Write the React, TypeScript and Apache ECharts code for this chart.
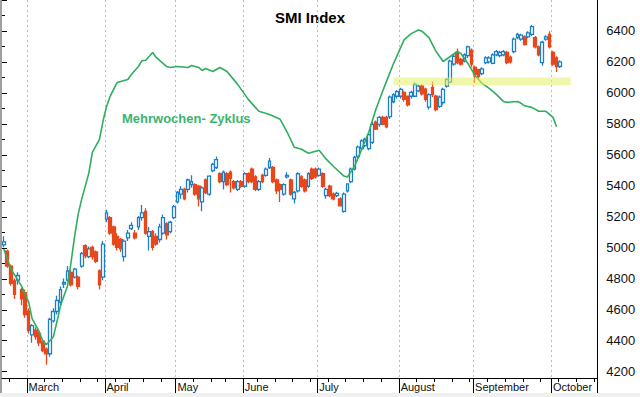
import React, { useEffect, useRef } from 'react';
import * as echarts from 'echarts';

// ---- categories -------------------------------------------------------
const firstDay = '2009-02-19';
const lastDay = '2009-10-19';
const holidays = ['2009-04-10', '2009-04-13', '2009-05-01', '2009-05-21', '2009-06-01'];
const monthNames = ['January', 'February', 'March', 'April', 'May', 'June', 'July', 'August', 'September', 'October', 'November', 'December'];

// ---- y axis -----------------------------------------------------------
const yLabelMin = 4200;
const yLabelMax = 6400;
const yStep = 200;

// ---- candles [open, close, low, high] per month ------------------------
const feb = [
  [5005, 5025, 4990, 5060], [4965, 4870, 4860, 4975], [4870, 4760, 4745, 4880], [4775, 4690, 4660, 4790],
  [4780, 4810, 4750, 4830], [4720, 4660, 4620, 4730], [4700, 4560, 4540, 4720],
];
const mar = [
  [4580, 4460, 4440, 4600], [4430, 4490, 4380, 4500], [4460, 4420, 4400, 4480], [4440, 4380, 4360, 4450],
  [4390, 4330, 4320, 4400], [4340, 4310, 4240, 4350], [4310, 4530, 4290, 4540], [4520, 4580, 4510, 4600],
  [4580, 4650, 4560, 4680], [4640, 4720, 4620, 4740], [4755, 4765, 4730, 4790], [4780, 4840, 4770, 4870],
  [4830, 4750, 4740, 4850], [4800, 4850, 4790, 4860], [4800, 4740, 4720, 4810], [4870, 4950, 4860, 4960],
  [5000, 4935, 4920, 5010], [4930, 4980, 4920, 4995], [4990, 4930, 4910, 5000], [4960, 4900, 4890, 4970],
  [4840, 4750, 4720, 4850], [4800, 5010, 4780, 5030],
];
const apr = [
  [5170, 5210, 5150, 5230], [5180, 5080, 5070, 5190], [5120, 5010, 5000, 5130], [5060, 4990, 4970, 5080],
  [5040, 4980, 4960, 5050], [4930, 5030, 4900, 5040], [5050, 5080, 5030, 5100], [5110, 5130, 5100, 5150],
  [5080, 5050, 5040, 5100], [5120, 5180, 5100, 5190], [5180, 5210, 5160, 5260], [5220, 5080, 5070, 5240],
  [5060, 5090, 4970, 5120], [5090, 4990, 4970, 5100], [5060, 5010, 5000, 5080], [5040, 5120, 5020, 5140],
  [5080, 5180, 5070, 5200], [5140, 5070, 5040, 5150], [5090, 5150, 5080, 5160], [5180, 5250, 5170, 5260],
];
const may = [
  [5280, 5340, 5270, 5350], [5330, 5360, 5300, 5380], [5360, 5300, 5290, 5370], [5360, 5420, 5340, 5430],
  [5390, 5410, 5370, 5450], [5390, 5330, 5320, 5400], [5380, 5300, 5250, 5390], [5280, 5370, 5220, 5380],
  [5420, 5340, 5330, 5430], [5330, 5445, 5320, 5450], [5480, 5520, 5470, 5530], [5500, 5550, 5490, 5570],
  [5460, 5410, 5400, 5470], [5410, 5470, 5360, 5480], [5460, 5390, 5380, 5470], [5470, 5430, 5340, 5480],
  [5410, 5370, 5360, 5420], [5360, 5410, 5350, 5420], [5410, 5380, 5370, 5420],
];
const jun = [
  [5380, 5460, 5370, 5470], [5460, 5410, 5400, 5470], [5490, 5410, 5400, 5500], [5440, 5360, 5350, 5450],
  [5360, 5410, 5350, 5420], [5450, 5410, 5400, 5460], [5450, 5490, 5440, 5500], [5500, 5540, 5490, 5560],
  [5500, 5410, 5400, 5510], [5420, 5350, 5330, 5430], [5390, 5360, 5280, 5400], [5330, 5390, 5320, 5400],
  [5440, 5450, 5430, 5470], [5420, 5330, 5320, 5430], [5300, 5340, 5270, 5350], [5350, 5460, 5340, 5470],
  [5440, 5380, 5370, 5450], [5420, 5350, 5340, 5430], [5380, 5460, 5370, 5470], [5490, 5430, 5420, 5500],
  [5490, 5440, 5430, 5500],
];
const jul = [
  [5450, 5490, 5440, 5500], [5460, 5380, 5370, 5470], [5320, 5360, 5300, 5370], [5380, 5320, 5310, 5390],
  [5330, 5300, 5290, 5340], [5320, 5335, 5310, 5345], [5300, 5255, 5250, 5310], [5220, 5330, 5210, 5340],
  [5350, 5395, 5340, 5400], [5410, 5490, 5400, 5500], [5490, 5565, 5480, 5575], [5570, 5630, 5560, 5640],
  [5620, 5670, 5610, 5680], [5640, 5680, 5630, 5690], [5620, 5710, 5610, 5720], [5660, 5775, 5650, 5790],
  [5790, 5745, 5740, 5800], [5775, 5820, 5760, 5830], [5820, 5775, 5770, 5830], [5820, 5760, 5750, 5830],
  [5825, 5950, 5810, 5960], [5920, 5965, 5910, 5975], [5955, 5985, 5940, 5995],
];
const aug = [
  [5955, 5999, 5940, 6010], [5980, 5935, 5920, 5990], [5955, 5900, 5890, 5960], [5955, 5980, 5940, 5990],
  [5955, 6030, 5950, 6045], [5990, 6020, 5980, 6030], [6020, 5970, 5960, 6030], [6000, 5935, 5920, 6010],
  [5885, 5965, 5870, 5975], [6010, 5965, 5950, 6050], [5955, 5870, 5860, 5965], [5890, 5950, 5880, 5960],
  [5915, 5999, 5900, 6010], [6020, 6062, 6010, 6070], [6045, 6180, 6040, 6190], [6160, 6210, 6150, 6220],
  [6235, 6170, 6160, 6260], [6190, 6160, 6150, 6200], [6180, 6220, 6170, 6230], [6215, 6270, 6200, 6280],
  [6250, 6160, 6140, 6260],
];
const sep = [
  [6140, 6095, 6040, 6150], [6125, 6080, 6060, 6130], [6100, 6130, 6090, 6140], [6170, 6200, 6160, 6210],
  [6175, 6200, 6165, 6210], [6165, 6220, 6160, 6230], [6220, 6240, 6210, 6250], [6215, 6235, 6205, 6245],
  [6220, 6240, 6210, 6250], [6235, 6170, 6160, 6245], [6205, 6175, 6165, 6215], [6240, 6320, 6230, 6330],
  [6330, 6350, 6320, 6360], [6320, 6345, 6310, 6355], [6335, 6285, 6280, 6345], [6335, 6360, 6325, 6370],
  [6350, 6400, 6340, 6410], [6330, 6270, 6260, 6340], [6270, 6220, 6210, 6280], [6170, 6300, 6150, 6310],
  [6320, 6335, 6310, 6345], [6350, 6270, 6260, 6370],
];
const oct = [
  [6235, 6160, 6150, 6245], [6200, 6145, 6110, 6210], [6145, 6175, 6135, 6185],
];

// ---- multi-week cycle line: [day index, value] ------------------------
const cycle = [
  [0, 4980], [2, 4852], [5, 4744], [7, 4642], [8, 4534], [10, 4451], [11, 4393], [12, 4368],
  [14, 4419], [15, 4514], [16, 4616], [18, 4744], [19, 4897], [20, 5062], [21, 5202], [22, 5298],
  [24, 5464], [25, 5597], [27, 5680], [28, 5795], [29, 5890], [30, 5954], [32, 6043], [35, 6062],
  [36, 6094], [38, 6145], [39, 6183], [40, 6183], [42, 6234], [43, 6203], [46, 6145], [47, 6139],
  [49, 6145], [52, 6139], [53, 6152], [55, 6139], [56, 6120], [57, 6132], [59, 6113], [61, 6139],
  [63, 6113], [66, 6031], [69, 5935], [71, 5884], [72, 5859], [75, 5839], [78, 5808], [80, 5725],
  [82, 5629], [84, 5616], [86, 5591], [89, 5610], [91, 5553], [93, 5508], [96, 5445], [97, 5439],
  [99, 5508], [101, 5616], [103, 5725], [105, 5871], [107, 5992], [108, 6050], [110, 6164], [111, 6215],
  [113, 6317], [115, 6355], [117, 6378], [118, 6371], [120, 6330], [121, 6285], [122, 6241], [123, 6209],
  [124, 6177], [126, 6209], [128, 6241], [129, 6228], [131, 6164], [133, 6088], [134, 6062], [135, 6037],
  [137, 6005], [139, 5967], [141, 5922], [142, 5916], [145, 5922], [146, 5910], [147, 5894], [149, 5884],
  [151, 5859], [153, 5859], [155, 5820], [156, 5760],
];

// ---- support band -----------------------------------------------------
const bandFrom = 110;
const bandTo = 160;
const bandLow = 6025;
const bandHigh = 6075;

const FONT = '"Liberation Sans", Arial, sans-serif';

function buildDays(): string[] {
  const out: string[] = [];
  const d = new Date(firstDay + 'T00:00:00Z');
  const end = new Date(lastDay + 'T00:00:00Z').getTime();
  while (d.getTime() <= end) {
    const wd = d.getUTCDay();
    const s = d.toISOString().slice(0, 10);
    if (wd !== 0 && wd !== 6 && holidays.indexOf(s) < 0) out.push(s);
    d.setUTCDate(d.getUTCDate() + 1);
  }
  return out;
}

export default function App() {
  const ref = useRef<HTMLDivElement>(null);
  useEffect(() => {
    if (!ref.current) return;
    const chart = echarts.init(ref.current, undefined, { renderer: 'svg' });
    const days = buildDays();
    const dow = (s: string) => new Date(s + 'T00:00:00Z').getUTCDay();
    const isMonthStart = (i: number) => i > 0 && days[i].slice(5, 7) !== days[i - 1].slice(5, 7);
    const isWeekStart = (i: number) => i > 0 && dow(days[i]) <= dow(days[i - 1]);
    const candles = [...feb, ...mar, ...apr, ...may, ...jun, ...jul, ...aug, ...sep, ...oct];

    const gridLeft = 2;
    const gridRight = 42.7;

    chart.setOption({
      animation: false,
      backgroundColor: '#ffffff',
      grid: [
        { left: gridLeft, right: gridRight, top: 0, bottom: 19 },
        { left: gridLeft, right: gridRight, top: -4.66, bottom: 25.3 },
      ],
      xAxis: [
        {
          type: 'category', gridIndex: 0, data: days, boundaryGap: true, position: 'bottom',
          axisLine: { show: true, onZero: false, lineStyle: { color: '#000', width: 1 } },
          axisTick: { show: true, interval: (i: number) => isWeekStart(i), length: 4, lineStyle: { color: '#000' } },
          axisLabel: { show: false },
          splitLine: { show: false },
        },
        {
          type: 'category', gridIndex: 0, data: days, boundaryGap: true, position: 'bottom',
          axisLine: { show: false, onZero: false },
          axisTick: { show: true, interval: (i: number) => isMonthStart(i), length: 15, lineStyle: { color: '#000' } },
          axisLabel: {
            show: true, interval: (i: number) => isMonthStart(i),
            formatter: (v: string) => monthNames[parseInt(v.slice(5, 7), 10) - 1],
            align: 'left', margin: 3, fontSize: 11, color: '#111', fontFamily: FONT,
          },
          splitLine: { show: true, interval: (i: number) => isMonthStart(i), lineStyle: { color: '#bdbdbd', type: [2, 3], width: 1 } },
        },
        { type: 'value', gridIndex: 1, min: 0, max: 1, show: false },
      ],
      yAxis: [
        {
          type: 'value', gridIndex: 0, position: 'right', min: 4155, max: 6570, scale: true,
          axisLine: { show: true, lineStyle: { color: '#000', width: 1 } },
          axisTick: { show: false }, axisLabel: { show: false }, splitLine: { show: false },
        },
        {
          type: 'value', gridIndex: 1, position: 'right', min: yLabelMin, max: yLabelMax + yStep, interval: yStep,
          axisLine: { show: false },
          axisTick: { show: true, length: 5, lineStyle: { color: '#000' } },
          minorTick: { show: true, splitNumber: 2, length: 3, lineStyle: { color: '#000' } },
          axisLabel: {
            margin: 9, fontSize: 13, color: '#111', fontFamily: FONT,
            formatter: (v: number) => (v > yLabelMax || v < yLabelMin ? '' : String(v)),
          },
          splitLine: { show: false },
        },
      ],
      series: [
        {
          type: 'candlestick', xAxisIndex: 0, yAxisIndex: 0, data: candles, barWidth: 3.3,
          itemStyle: { color: '#ffffff', color0: '#e8471c', borderColor: '#1c7fc8', borderColor0: '#e8471c', borderWidth: 1.3 },
        },
        {
          type: 'line', xAxisIndex: 0, yAxisIndex: 0, data: cycle, symbol: 'none', z: 3,
          lineStyle: { color: '#2fae5f', width: 1.6 },
          markArea: {
            silent: true, z: 10,
            itemStyle: { color: 'rgba(228,240,100,0.55)' },
            data: [[{ xAxis: bandFrom, yAxis: bandLow }, { xAxis: bandTo, yAxis: bandHigh }]],
          },
        },
      ],
      graphic: [
        { type: 'rect', shape: { x: 0, y: 0, width: 2, height: 393 }, style: { fill: '#a0a0a0' } },
        { type: 'rect', shape: { x: 0, y: 393, width: 640, height: 4 }, style: { fill: '#f0f0f0' } },
        {
          type: 'text', x: 310, y: 17,
          style: { text: 'SMI Index', fill: '#000', font: 'bold 15px ' + FONT, textAlign: 'center', textVerticalAlign: 'middle' },
        },
        {
          type: 'text', x: 122, y: 118.5,
          style: { text: 'Mehrwochen- Zyklus', fill: '#3cb371', font: 'bold 13px ' + FONT, textAlign: 'left', textVerticalAlign: 'middle' },
        },
      ],
    });
    return () => chart.dispose();
  }, []);
  return <div ref={ref} style={{ position: 'absolute', left: 0, top: 0, width: 640, height: 397 }} />;
}
